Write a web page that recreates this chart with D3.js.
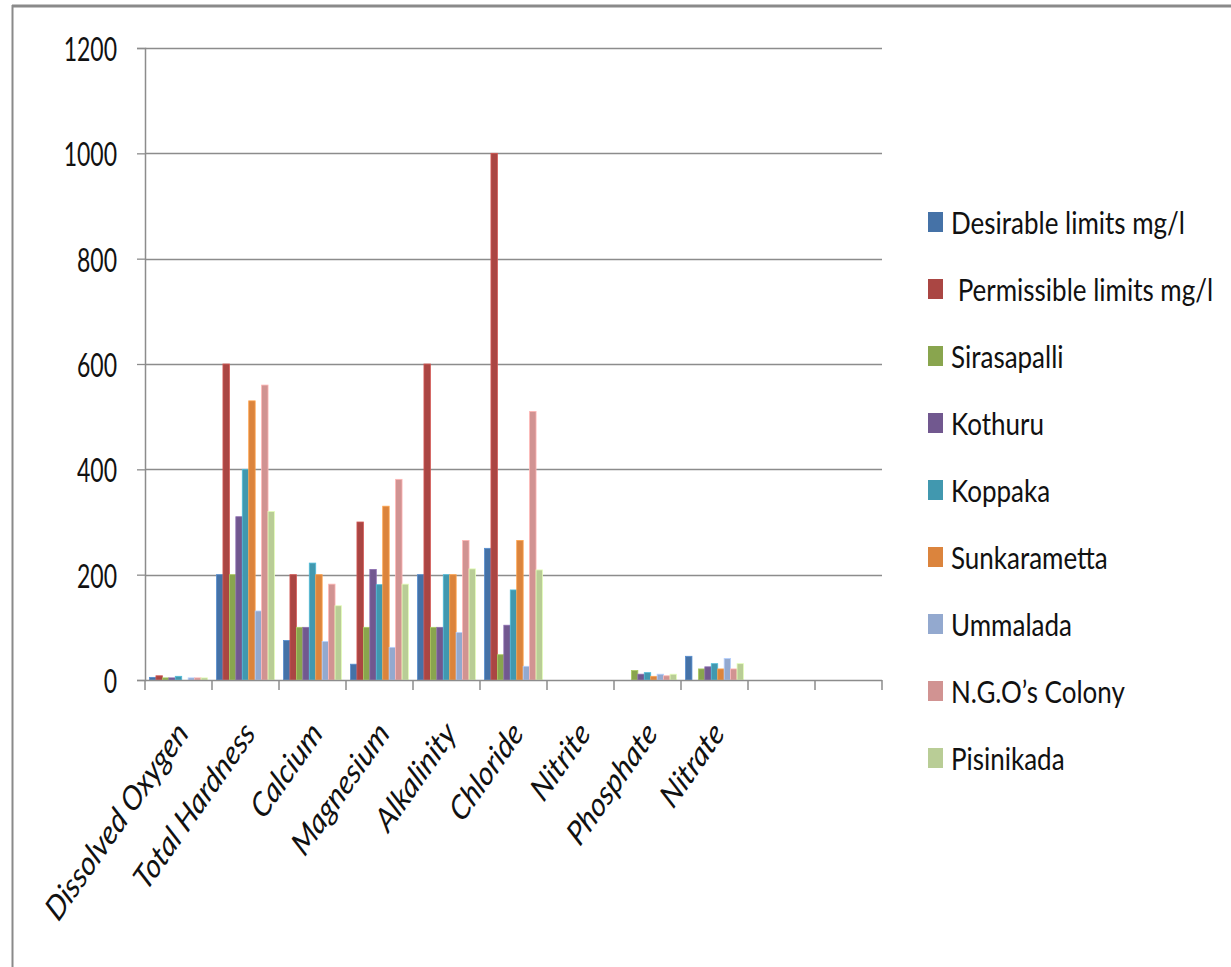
<!DOCTYPE html>
<html>
<head>
<meta charset="utf-8">
<script src="https://cdn.jsdelivr.net/npm/d3@7"></script>
<style>
  html, body { margin: 0; padding: 0; background: #fff; }
  svg { display: block; }
  text { font-family: Lato, "Open Sans", sans-serif; fill: #111; }
</style>
</head>
<body>
<svg id="chart" width="1231" height="967"></svg>
<script>
// Water quality parameters (mg/l) at each sampling station vs. limits
const categories = ["Dissolved Oxygen", "Total Hardness", "Calcium", "Magnesium",
  "Alkalinity", "Chloride", "Nitrite", "Phosphate", "Nitrate", "", ""];

const seriesNames = ["Desirable limits mg/l", " Permissible limits mg/l", "Sirasapalli",
  "Kothuru", "Koppaka", "Sunkarametta", "Ummalada", "N.G.O\u2019s Colony", "Pisinikada"];

const desirable    = [5, 200, 75, 30, 200, 250, null, null, 45, null, null];
const permissible  = [8, 600, 200, 300, 600, 1000, null, null, null, null, null];
const sirasapalli  = [4, 200, 100, 100, 100, 48, null, 18, 21, null, null];
const kothuru      = [4, 310, 100, 210, 100, 104, null, 11, 25, null, null];
const koppaka      = [7, 400, 222, 181, 200, 171, null, 14, 31, null, null];
const sunkarametta = [null, 530, 200, 330, 200, 265, null, 7, 21, null, null];
const ummalada     = [4, 131, 73, 62, 90, 26, null, 11, 41, null, null];
const ngosColony   = [4, 560, 182, 381, 265, 510, null, 8, 21, null, null];
const pisinikada   = [4, 320, 141, 182, 211, 209, null, 11, 31, null, null];

const yTicks = [0, 200, 400, 600, 800, 1000, 1200];

const colors = ["#4572A7", "#AA4643", "#89A54E", "#71588F", "#4198AF",
  "#DB843D", "#93A9CF", "#D19392", "#B9CD96"];

const seriesValues = [desirable, permissible, sirasapalli, kothuru, koppaka,
  sunkarametta, ummalada, ngosColony, pisinikada];

// Text in this chart is drawn taller than wide
const Y_STRETCH = 1.4;
const TEXT_STRETCH = 1.2;

const svg = d3.select("#chart");

// outer frame (top and left edges)
svg.append("line").attr("x1", 12).attr("x2", 1231).attr("y1", 6).attr("y2", 6)
  .attr("stroke", "#8a8a8a").attr("stroke-width", 3);
svg.append("line").attr("x1", 12.5).attr("x2", 12.5).attr("y1", 5).attr("y2", 967)
  .attr("stroke", "#8a8a8a").attr("stroke-width", 2);

const plot = { left: 145, right: 882, top: 48, bottom: 680 };

const x0 = d3.scaleBand()
  .domain(d3.range(categories.length))
  .range([plot.left, plot.right])
  .padding(0);

const x1 = d3.scaleBand()
  .domain(d3.range(seriesNames.length))
  .range([0, x0.bandwidth()])
  .paddingInner(0)
  .paddingOuter(0.7);

const y = d3.scaleLinear().domain([0, 1200]).range([plot.bottom, plot.top]);

// horizontal gridlines
svg.append("g")
  .selectAll("line")
  .data(yTicks.filter(d => d > 0))
  .join("line")
  .attr("x1", plot.left).attr("x2", plot.right)
  .attr("y1", d => Math.round(y(d)) + 0.5).attr("y2", d => Math.round(y(d)) + 0.5)
  .attr("stroke", "#8c8c8c").attr("stroke-width", 1.3);

// bars
const groups = svg.append("g")
  .selectAll("g")
  .data(categories.map((c, i) => i))
  .join("g")
  .attr("transform", i => `translate(${x0(i)},0)`);

groups.selectAll("rect")
  .data(i => seriesValues.map((vals, s) => ({ s, v: vals[i] })).filter(d => d.v != null && d.v > 0))
  .join("rect")
  .attr("x", d => x1(d.s))
  .attr("width", x1.bandwidth())
  .attr("y", d => y(d.v))
  .attr("height", d => y(0) - y(d.v))
  .attr("fill", d => colors[d.s])
  .attr("stroke", d => d3.color(colors[d.s]).brighter(0.6))
  .attr("stroke-width", 0.8);

// y axis
const yAxis = d3.axisLeft(y).tickValues(yTicks).tickSize(8).tickPadding(20)
  .tickFormat(d3.format("d"));
const gy = svg.append("g").attr("transform", `translate(${plot.left},0)`).call(yAxis);
gy.select(".domain").attr("stroke", "#8c8c8c").attr("stroke-width", 1.5);
gy.selectAll(".tick line").attr("stroke", "#8c8c8c").attr("stroke-width", 1.3);
gy.selectAll(".tick text")
  .attr("font-size", 23)
  .attr("font-family", "Lato, sans-serif")
  .attr("fill", "#111")
  .attr("dy", null)
  .attr("dominant-baseline", "central")
  .attr("transform", function () {
    const tx = +d3.select(this).attr("x");
    d3.select(this).attr("x", 0);
    return `translate(${tx},0) scale(1,${Y_STRETCH})`;
  });

// x axis with ticks on category boundaries
const xAxisG = svg.append("g");
xAxisG.append("line")
  .attr("x1", plot.left).attr("x2", plot.right)
  .attr("y1", plot.bottom + 0.5).attr("y2", plot.bottom + 0.5)
  .attr("stroke", "#8c8c8c").attr("stroke-width", 1.5);
xAxisG.selectAll("line.tk")
  .data(d3.range(categories.length + 1))
  .join("line")
  .attr("class", "tk")
  .attr("x1", i => i < categories.length ? x0(i) : plot.right)
  .attr("x2", i => i < categories.length ? x0(i) : plot.right)
  .attr("y1", plot.bottom).attr("y2", plot.bottom + 10)
  .attr("stroke", "#8c8c8c").attr("stroke-width", 1.5);

xAxisG.selectAll("text")
  .data(categories.map((c, i) => ({ c, i })).filter(d => d.c))
  .join("text")
  .attr("transform", d => `translate(${x0(d.i) + x0.bandwidth() / 2 + 3},${plot.bottom + 46}) scale(1,${TEXT_STRETCH}) rotate(-50)`)
  .attr("text-anchor", "end")
  .attr("dominant-baseline", "central")
  .attr("font-size", 28)
  .attr("font-style", "italic")
  .text(d => d.c);

// legend
const legend = svg.append("g");
const legendTop = 222, legendStep = 67;
const items = legend.selectAll("g")
  .data(seriesNames.map((n, i) => ({ n, i })))
  .join("g")
  .attr("transform", d => `translate(928,${legendTop + d.i * legendStep})`);
items.append("rect")
  .attr("x", 0).attr("y", -10).attr("width", 15).attr("height", 20)
  .attr("fill", d => colors[d.i]);
items.append("text")
  .attr("transform", `translate(23,0) scale(1,${TEXT_STRETCH})`)
  .attr("dominant-baseline", "central")
  .attr("font-size", 26)
  .attr("xml:space", "preserve")
  .style("white-space", "pre")
  .text(d => d.n);
</script>
</body>
</html>
